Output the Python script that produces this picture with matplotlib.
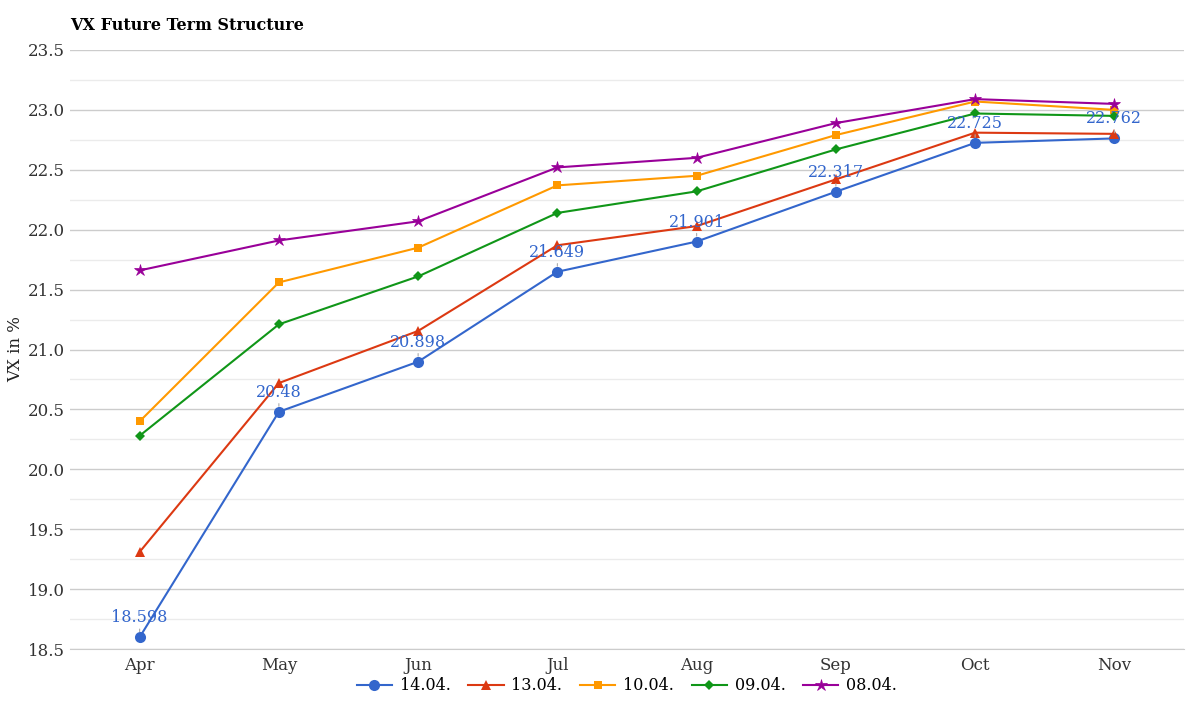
import matplotlib
matplotlib.use("Agg")
import matplotlib.pyplot as plt
from matplotlib.ticker import MultipleLocator

plt.rcParams['font.family'] = ['DejaVu Serif']

months = ["Apr", "May", "Jun", "Jul", "Aug", "Sep", "Oct", "Nov"]
s_1404 = [18.598, 20.48, 20.898, 21.649, 21.901, 22.317, 22.725, 22.762]
s_1304 = [19.31, 20.72, 21.155, 21.87, 22.03, 22.42, 22.81, 22.80]
s_1004 = [20.40, 21.56, 21.85, 22.37, 22.45, 22.79, 23.07, 23.00]
s_0904 = [20.28, 21.21, 21.61, 22.14, 22.32, 22.67, 22.97, 22.95]
s_0804 = [21.66, 21.91, 22.07, 22.52, 22.60, 22.89, 23.09, 23.05]
names = ["14.04.", "13.04.", "10.04.", "09.04.", "08.04."]

series = [s_1404, s_1304, s_1004, s_0904, s_0804]
colors = ["#3366cc", "#dc3912", "#ff9900", "#109618", "#990099"]
markers = ["o", "^", "s", "D", "*"]
msizes = [8, 6.5, 6, 5.5, 9]

fig = plt.figure(figsize=(12, 7.07), dpi=100)
ax = fig.add_axes([70/1200, 1-649/707, (1184-70)/1200, (649-50)/707])

x = list(range(len(months)))
for i, (s, c, m, ms, n) in enumerate(zip(series, colors, markers, msizes, names)):
    ax.plot(x, s, color=c, marker=m, markersize=ms, linewidth=1.5, label=n,
            zorder=3 + i, markeredgewidth=0 if m != "*" else 0.5, markeredgecolor=c)

for xi, v in zip(x, s_1404):
    ax.annotate(f"{v:g}", xy=(xi, v), xytext=(0, 14), textcoords="offset points",
                ha="center", va="center", color="#3366cc", fontsize=11.5, zorder=20,
                arrowprops=dict(arrowstyle="-", color="#aaaaaa", lw=0.8,
                                shrinkA=7, shrinkB=4))

ax.set_xlim(-0.5, 7.5)
ax.set_ylim(18.5, 23.5)
ax.set_xticks(x)
ax.set_xticklabels(months)
ax.yaxis.set_major_locator(MultipleLocator(0.5))
ax.yaxis.set_minor_locator(MultipleLocator(0.25))
ax.yaxis.set_major_formatter(matplotlib.ticker.FormatStrFormatter("%.1f"))
ax.grid(axis="y", which="major", color="#cccccc", linewidth=1)
ax.grid(axis="y", which="minor", color="#ebebeb", linewidth=1)
ax.set_axisbelow(True)
for sp in ["top", "right", "left"]:
    ax.spines[sp].set_visible(False)
ax.spines["bottom"].set_color("#cccccc")
ax.tick_params(axis="both", which="both", length=0, labelsize=12, colors="#333333")
ax.tick_params(axis="y", pad=4)
ax.tick_params(axis="x", pad=6)
ax.set_ylabel("VX in %", fontsize=12, color="#222222")
ax.yaxis.set_label_coords(-(70 - 24) / (1184 - 70), 0.5)

fig.text(70/1200, 1-26/707, "VX Future Term Structure", fontsize=11.5, fontweight="bold",
         ha="left", va="center", color="black")

ax.legend(loc="center", bbox_to_anchor=(0.5, -(686 - 649) / (649 - 50)), ncol=5, frameon=False,
          fontsize=11.5, handlelength=2.2, columnspacing=1.1, handletextpad=0.5)

fig.savefig("out.png", dpi=100)
